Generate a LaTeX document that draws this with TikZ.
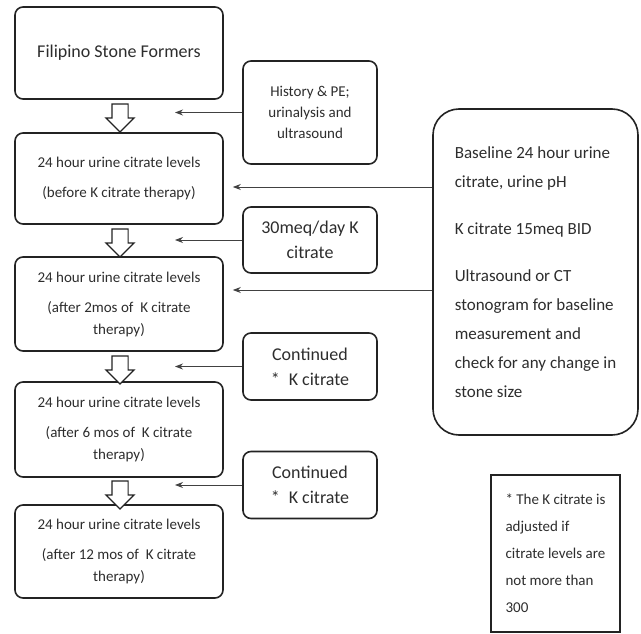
\documentclass[tikz,border=0pt]{standalone}
\usepackage{fontspec}
\setmainfont{Carlito}
\usepackage{tikz}
\usetikzlibrary{arrows,arrows.meta,shapes,positioning}
\usepackage{xcolor}
\definecolor{fcborder}{RGB}{35,35,35}
\definecolor{fctext}{RGB}{45,45,45}
\definecolor{fcline}{RGB}{65,65,65}
\tikzstyle{arrow} = [line width=1pt,->,>={Stealth[length=8pt,width=6pt]},color=fcline,shorten >=9pt]
\tikzstyle{pointer} = [line width=1pt,->,>={Stealth[length=8pt,width=6pt]},color=fcline]
\tikzstyle{stage} = [rectangle, rounded corners=8pt, minimum width=208pt, align=center, draw=fcborder, text=fctext, line width=1.6pt, inner sep=0pt, font=\fontsize{15}{22}\selectfont]
\tikzstyle{action} = [rectangle, rounded corners=8pt, minimum width=134pt, align=center, draw=fcborder, text=fctext, line width=1.6pt, inner sep=0pt, font=\fontsize{18}{25}\selectfont]
\tikzstyle{downarrow} = [single arrow, shape border rotate=270, draw=fcborder, fill=white, line width=1.2pt, inner sep=7.5pt, minimum height=28pt, single arrow head extend=6pt]

\begin{document}
\begin{tikzpicture}[x=1pt,y=-1pt]
\useasboundingbox (0,0) rectangle (641,634);
% Main stages
\node[stage, minimum height=92pt, font=\fontsize{18}{22}\selectfont] (former) at (119,53) {Filipino Stone Formers};
\node[stage, minimum height=91pt] (before) at (119,178.5) {24 hour urine citrate levels\\[8pt](before K citrate therapy)};
\node[stage, minimum height=94pt] (after2) at (119,304) {24 hour urine citrate levels\\[8pt](after 2mos of~ K citrate\\therapy)};
\node[stage, minimum height=95pt] (after6) at (119,429.5) {24 hour urine citrate levels\\[8pt](after 6 mos of~ K citrate\\therapy)};
\node[stage, minimum height=93pt] (after12) at (119,551.5) {24 hour urine citrate levels\\[8pt](after 12 mos of~ K citrate\\therapy)};

% Hollow arrows between stages
\node[downarrow] (down1) at (120,114) {};
\node[downarrow] (down2) at (120,239) {};
\node[downarrow] (down3) at (120,366) {};
\node[downarrow] (down4) at (120,491) {};

% Actions
\node[action, minimum height=103pt, font=\fontsize{15}{21}\selectfont] (history) at (310,112.5) {History \& PE;\\urinalysis and\\ultrasound};
\node[action, minimum height=66pt] (dose) at (310,240) {30meq/day K\\citrate};
\node[action, minimum height=67pt] (cont1) at (310,366.5) {Continued\\*\enspace K citrate};
\node[action, minimum height=67pt] (cont2) at (310,485) {Continued\\*\enspace K citrate};

% Baseline work-up
\node[rectangle, rounded corners=26pt, minimum width=205pt, minimum height=326pt, align=left, draw=fcborder, text=fctext, line width=1.6pt, inner sep=0pt, font=\fontsize{17}{29}\selectfont] (baseline) at (535.5,272) {Baseline 24 hour urine\\citrate, urine pH\\[18pt]K citrate 15meq BID\\[18pt]Ultrasound or CT\\stonogram for baseline\\measurement and\\check for any change in\\stone size};

% Footnote
\node[rectangle, minimum width=129pt, minimum height=157pt, align=left, draw=fcborder, text=fctext, line width=1.4pt, inner sep=0pt, font=\fontsize{15}{27}\selectfont] (note) at (555.5,553.5) {* The K citrate is\\adjusted if\\citrate levels are\\not more than\\300};

% Connectors
\coordinate (tipx) at (175,0);
\draw[pointer] (history.west) -- (history.west -| tipx);
\draw[pointer] (dose.west) -- (dose.west -| tipx);
\draw[pointer] (cont1.west) -- (cont1.west -| tipx);
\draw[pointer] (cont2.west) -- (cont2.west -| tipx);
\draw[arrow] ([yshift=-8.5pt]before.east -| baseline.west) -- ([yshift=-8.5pt]before.east);
\draw[arrow] ([yshift=14pt]after2.east -| baseline.west) -- ([yshift=14pt]after2.east);
\end{tikzpicture}
\end{document}
